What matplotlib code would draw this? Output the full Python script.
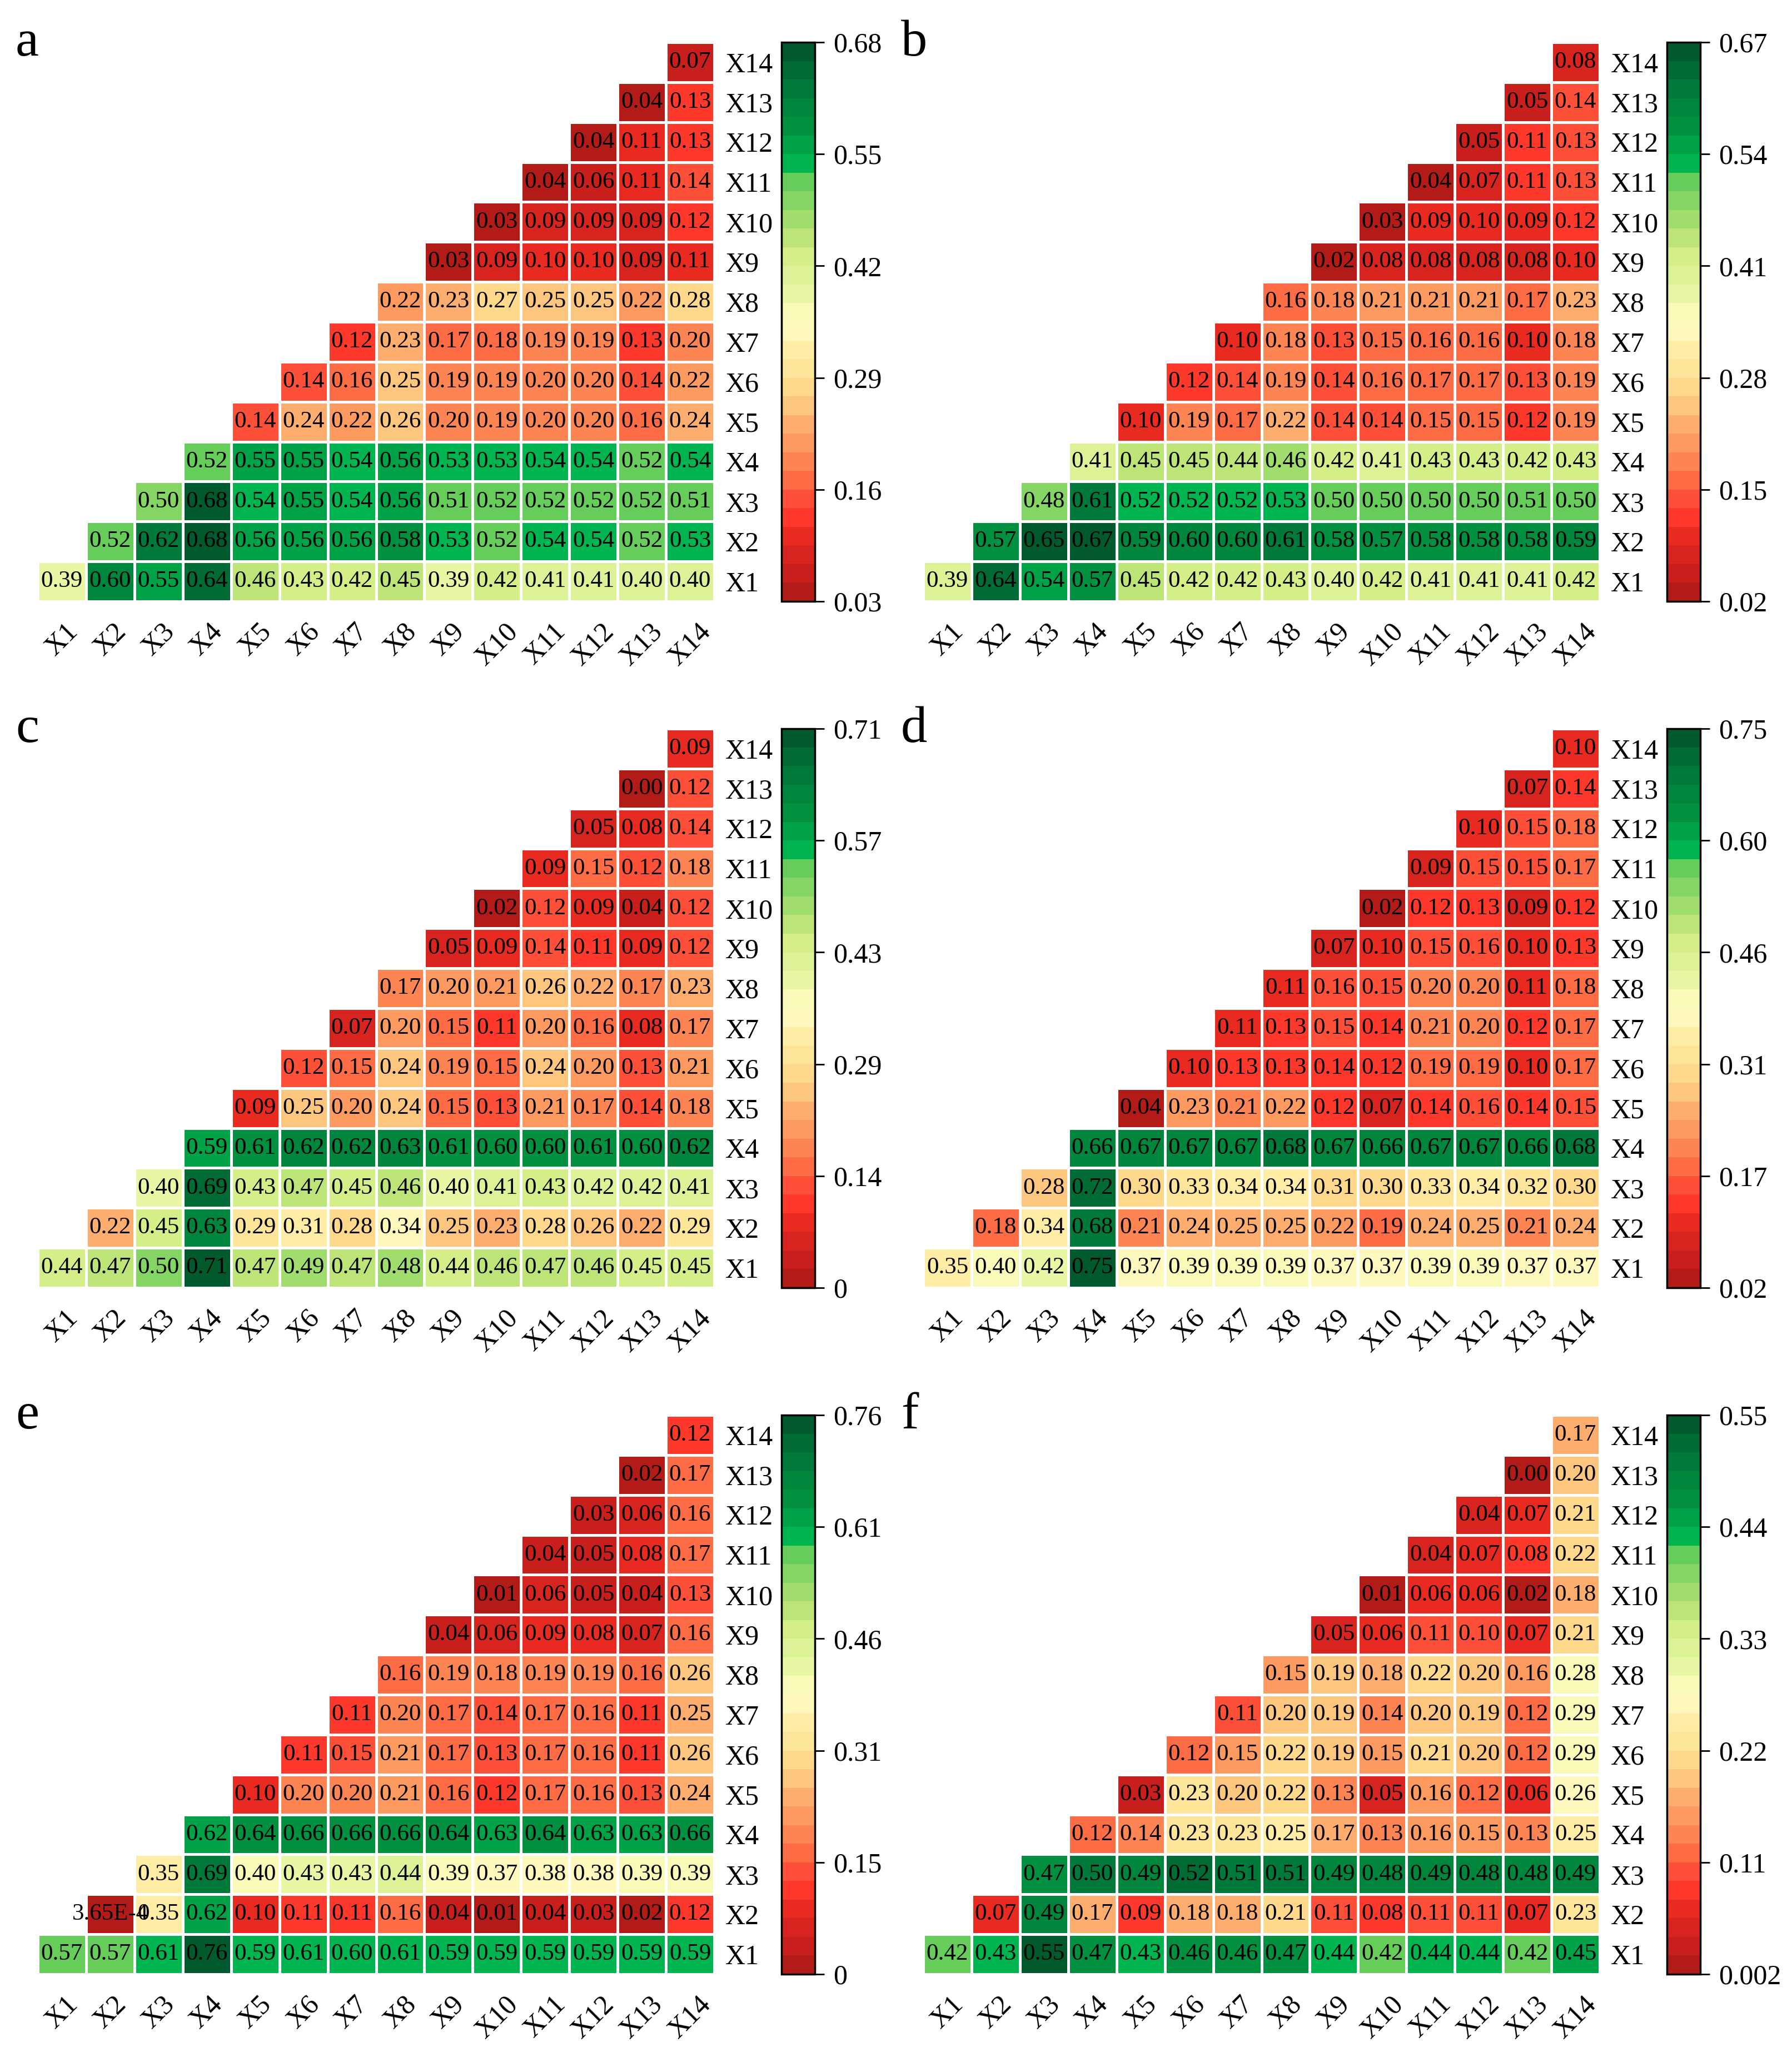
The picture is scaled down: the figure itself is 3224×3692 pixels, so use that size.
import numpy as np
import matplotlib
matplotlib.use('Agg')
import matplotlib.pyplot as plt
from matplotlib.colors import ListedColormap, Normalize

plt.rcParams['font.family'] = ['Liberation Serif', 'DejaVu Serif']

names = ['X%d' % i for i in range(1, 15)]
panel_letters = ['a', 'b', 'c', 'd', 'e', 'f']

# each row Xi holds the values from column Xi to X14 (row X1 first)
a_rows = [
    [0.39, 0.60, 0.55, 0.64, 0.46, 0.43, 0.42, 0.45, 0.39, 0.42, 0.41, 0.41, 0.40, 0.40],
    [0.52, 0.62, 0.68, 0.56, 0.56, 0.56, 0.58, 0.53, 0.52, 0.54, 0.54, 0.52, 0.53],
    [0.50, 0.68, 0.54, 0.55, 0.54, 0.56, 0.51, 0.52, 0.52, 0.52, 0.52, 0.51],
    [0.52, 0.55, 0.55, 0.54, 0.56, 0.53, 0.53, 0.54, 0.54, 0.52, 0.54],
    [0.14, 0.24, 0.22, 0.26, 0.20, 0.19, 0.20, 0.20, 0.16, 0.24],
    [0.14, 0.16, 0.25, 0.19, 0.19, 0.20, 0.20, 0.14, 0.22],
    [0.12, 0.23, 0.17, 0.18, 0.19, 0.19, 0.13, 0.20],
    [0.22, 0.23, 0.27, 0.25, 0.25, 0.22, 0.28],
    [0.03, 0.09, 0.10, 0.10, 0.09, 0.11],
    [0.03, 0.09, 0.09, 0.09, 0.12],
    [0.04, 0.06, 0.11, 0.14],
    [0.04, 0.11, 0.13],
    [0.04, 0.13],
    [0.07],
]
b_rows = [
    [0.39, 0.64, 0.54, 0.57, 0.45, 0.42, 0.42, 0.43, 0.40, 0.42, 0.41, 0.41, 0.41, 0.42],
    [0.57, 0.65, 0.67, 0.59, 0.60, 0.60, 0.61, 0.58, 0.57, 0.58, 0.58, 0.58, 0.59],
    [0.48, 0.61, 0.52, 0.52, 0.52, 0.53, 0.50, 0.50, 0.50, 0.50, 0.51, 0.50],
    [0.41, 0.45, 0.45, 0.44, 0.46, 0.42, 0.41, 0.43, 0.43, 0.42, 0.43],
    [0.10, 0.19, 0.17, 0.22, 0.14, 0.14, 0.15, 0.15, 0.12, 0.19],
    [0.12, 0.14, 0.19, 0.14, 0.16, 0.17, 0.17, 0.13, 0.19],
    [0.10, 0.18, 0.13, 0.15, 0.16, 0.16, 0.10, 0.18],
    [0.16, 0.18, 0.21, 0.21, 0.21, 0.17, 0.23],
    [0.02, 0.08, 0.08, 0.08, 0.08, 0.10],
    [0.03, 0.09, 0.10, 0.09, 0.12],
    [0.04, 0.07, 0.11, 0.13],
    [0.05, 0.11, 0.13],
    [0.05, 0.14],
    [0.08],
]
c_rows = [
    [0.44, 0.47, 0.50, 0.71, 0.47, 0.49, 0.47, 0.48, 0.44, 0.46, 0.47, 0.46, 0.45, 0.45],
    [0.22, 0.45, 0.63, 0.29, 0.31, 0.28, 0.34, 0.25, 0.23, 0.28, 0.26, 0.22, 0.29],
    [0.40, 0.69, 0.43, 0.47, 0.45, 0.46, 0.40, 0.41, 0.43, 0.42, 0.42, 0.41],
    [0.59, 0.61, 0.62, 0.62, 0.63, 0.61, 0.60, 0.60, 0.61, 0.60, 0.62],
    [0.09, 0.25, 0.20, 0.24, 0.15, 0.13, 0.21, 0.17, 0.14, 0.18],
    [0.12, 0.15, 0.24, 0.19, 0.15, 0.24, 0.20, 0.13, 0.21],
    [0.07, 0.20, 0.15, 0.11, 0.20, 0.16, 0.08, 0.17],
    [0.17, 0.20, 0.21, 0.26, 0.22, 0.17, 0.23],
    [0.05, 0.09, 0.14, 0.11, 0.09, 0.12],
    [0.02, 0.12, 0.09, 0.04, 0.12],
    [0.09, 0.15, 0.12, 0.18],
    [0.05, 0.08, 0.14],
    [0.00, 0.12],
    [0.09],
]
d_rows = [
    [0.35, 0.40, 0.42, 0.75, 0.37, 0.39, 0.39, 0.39, 0.37, 0.37, 0.39, 0.39, 0.37, 0.37],
    [0.18, 0.34, 0.68, 0.21, 0.24, 0.25, 0.25, 0.22, 0.19, 0.24, 0.25, 0.21, 0.24],
    [0.28, 0.72, 0.30, 0.33, 0.34, 0.34, 0.31, 0.30, 0.33, 0.34, 0.32, 0.30],
    [0.66, 0.67, 0.67, 0.67, 0.68, 0.67, 0.66, 0.67, 0.67, 0.66, 0.68],
    [0.04, 0.23, 0.21, 0.22, 0.12, 0.07, 0.14, 0.16, 0.14, 0.15],
    [0.10, 0.13, 0.13, 0.14, 0.12, 0.19, 0.19, 0.10, 0.17],
    [0.11, 0.13, 0.15, 0.14, 0.21, 0.20, 0.12, 0.17],
    [0.11, 0.16, 0.15, 0.20, 0.20, 0.11, 0.18],
    [0.07, 0.10, 0.15, 0.16, 0.10, 0.13],
    [0.02, 0.12, 0.13, 0.09, 0.12],
    [0.09, 0.15, 0.15, 0.17],
    [0.10, 0.15, 0.18],
    [0.07, 0.14],
    [0.10],
]
e_rows = [
    [0.57, 0.57, 0.61, 0.76, 0.59, 0.61, 0.60, 0.61, 0.59, 0.59, 0.59, 0.59, 0.59, 0.59],
    [3.65e-4, 0.35, 0.62, 0.10, 0.11, 0.11, 0.16, 0.04, 0.01, 0.04, 0.03, 0.02, 0.12],
    [0.35, 0.69, 0.40, 0.43, 0.43, 0.44, 0.39, 0.37, 0.38, 0.38, 0.39, 0.39],
    [0.62, 0.64, 0.66, 0.66, 0.66, 0.64, 0.63, 0.64, 0.63, 0.63, 0.66],
    [0.10, 0.20, 0.20, 0.21, 0.16, 0.12, 0.17, 0.16, 0.13, 0.24],
    [0.11, 0.15, 0.21, 0.17, 0.13, 0.17, 0.16, 0.11, 0.26],
    [0.11, 0.20, 0.17, 0.14, 0.17, 0.16, 0.11, 0.25],
    [0.16, 0.19, 0.18, 0.19, 0.19, 0.16, 0.26],
    [0.04, 0.06, 0.09, 0.08, 0.07, 0.16],
    [0.01, 0.06, 0.05, 0.04, 0.13],
    [0.04, 0.05, 0.08, 0.17],
    [0.03, 0.06, 0.16],
    [0.02, 0.17],
    [0.12],
]
f_rows = [
    [0.42, 0.43, 0.55, 0.47, 0.43, 0.46, 0.46, 0.47, 0.44, 0.42, 0.44, 0.44, 0.42, 0.45],
    [0.07, 0.49, 0.17, 0.09, 0.18, 0.18, 0.21, 0.11, 0.08, 0.11, 0.11, 0.07, 0.23],
    [0.47, 0.50, 0.49, 0.52, 0.51, 0.51, 0.49, 0.48, 0.49, 0.48, 0.48, 0.49],
    [0.12, 0.14, 0.23, 0.23, 0.25, 0.17, 0.13, 0.16, 0.15, 0.13, 0.25],
    [0.03, 0.23, 0.20, 0.22, 0.13, 0.05, 0.16, 0.12, 0.06, 0.26],
    [0.12, 0.15, 0.22, 0.19, 0.15, 0.21, 0.20, 0.12, 0.29],
    [0.11, 0.20, 0.19, 0.14, 0.20, 0.19, 0.12, 0.29],
    [0.15, 0.19, 0.18, 0.22, 0.20, 0.16, 0.28],
    [0.05, 0.06, 0.11, 0.10, 0.07, 0.21],
    [0.01, 0.06, 0.06, 0.02, 0.18],
    [0.04, 0.07, 0.08, 0.22],
    [0.04, 0.07, 0.21],
    [0.00, 0.20],
    [0.17],
]
all_rows = [a_rows, b_rows, c_rows, d_rows, e_rows, f_rows]

# colour bar ranges and their tick labels
cbar_min = [0.03, 0.02, 0.0, 0.02, 0.0, 0.002]
cbar_max = [0.68, 0.67, 0.714, 0.75, 0.764, 0.55]
cbar_labels = [
    ['0.03', '0.16', '0.29', '0.42', '0.55', '0.68'],
    ['0.02', '0.15', '0.28', '0.41', '0.54', '0.67'],
    ['0', '0.14', '0.29', '0.43', '0.57', '0.71'],
    ['0.02', '0.17', '0.31', '0.46', '0.60', '0.75'],
    ['0', '0.15', '0.31', '0.46', '0.61', '0.76'],
    ['0.002', '0.11', '0.22', '0.33', '0.44', '0.55'],
]

# 30 step red-yellow-green colour map
cmap_colors = ['#b21b18', '#c81e1c', '#d8241f', '#e92a21', '#fe382b', '#fe5038',
               '#fe6c46', '#fd8453', '#fd9a60', '#fdad6d', '#fdc67e', '#fed98b',
               '#fde69a', '#ffeda5', '#fff8bd', '#f9f9b8', '#e9f7a5', '#ddf196',
               '#d4ee88', '#bce477', '#a0dd6c', '#84d563', '#66cc5a', '#00b450',
               '#00a248', '#009040', '#00853d', '#007a3a', '#006b35', '#005a2d']
cmap = ListedColormap(cmap_colors)


def to_matrix(rows):
    m = np.full((14, 14), np.nan)
    for i, r in enumerate(rows):
        m[i, i:] = r
    return np.ma.masked_invalid(m)


def fmt(v):
    if 0 < v < 0.005:
        s = '%.2E' % v
        return s.replace('E-0', 'E-')
    return '%.2f' % v


W, H = 3224.0, 3692.0
fig = plt.figure(figsize=(W / 100, H / 100), dpi=100)

col_x = [68, 1661]
row_top = [76, 1311, 2546]
heat_w, heat_h = 1217, 1006

for k in range(6):
    cx = col_x[k % 2]
    ty = row_top[k // 2]
    ax = fig.add_axes([cx / W, 1 - (ty + heat_h) / H, heat_w / W, heat_h / H])
    cax = fig.add_axes([(cx + 1338) / W, 1 - (ty + heat_h) / H, 60 / W, heat_h / H])

    m = to_matrix(all_rows[k])
    norm = Normalize(vmin=cbar_min[k], vmax=cbar_max[k])
    mesh = ax.pcolormesh(np.arange(15), np.arange(15), m, cmap=cmap, norm=norm,
                         edgecolors='white', linewidth=2.5)
    for i in range(14):
        for j in range(i, 14):
            ax.text(j + 0.5, i + 0.5, fmt(m[i, j]), ha='center', va='center',
                    fontsize=31, color='black')

    ax.set_xlim(0, 14)
    ax.set_ylim(0, 14)
    for s in ax.spines.values():
        s.set_visible(False)
    ax.set_xticks(np.arange(14) + 0.5)
    ax.set_xticklabels(names, rotation=45, ha='center', va='top')
    ax.set_yticks(np.arange(14) + 0.5)
    ax.set_yticklabels(names)
    ax.yaxis.tick_right()
    ax.tick_params(axis='both', length=0, labelsize=36)
    ax.tick_params(axis='x', pad=22)
    ax.tick_params(axis='y', pad=14)

    cb = fig.colorbar(mesh, cax=cax)
    cb.set_ticks(np.linspace(cbar_min[k], cbar_max[k], 6))
    cb.set_ticklabels(cbar_labels[k])
    cb.outline.set_linewidth(2.5)
    cax.tick_params(length=12, width=2, labelsize=36, pad=12)

    fig.text((cx - 40) / W, 1 - (ty + 24) / H, panel_letters[k], fontsize=68,
             ha='left', va='baseline')

fig.savefig('out.png', dpi=100, facecolor='white')
